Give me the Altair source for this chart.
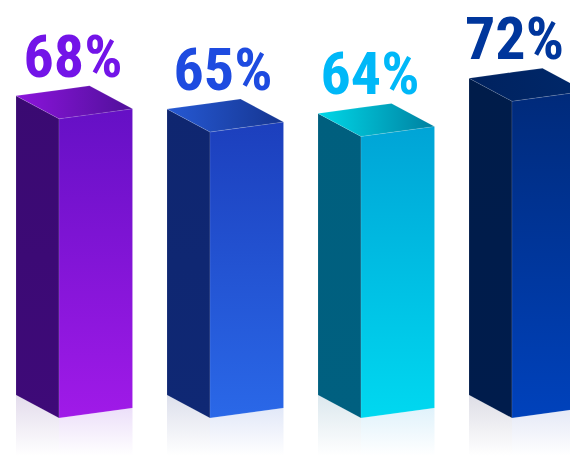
import altair as alt
import pandas as pd

# Survey shares, one box per value
categories = ["A", "B", "C", "D"]
values = [68, 65, 64, 72]
label_colors = ["#7314E8", "#1E4BE0", "#00B8F8", "#00369C"]
front_top = ["#6510C5", "#1C3FBD", "#00A4D6", "#002A7A"]
front_bottom = ["#A01AE8", "#2A68E8", "#00D8F0", "#0042BC"]
side_top = ["#3A0A72", "#0F2670", "#005F7E", "#001C4A"]
side_bottom = ["#3E0A78", "#0F2874", "#006080", "#001C4C"]
lid_left = ["#8C14DC", "#2659D4", "#00D8E8", "#00225F"]
lid_right = ["#50109A", "#153590", "#0080A0", "#00286A"]
glow_side = ["#E3DCEC", "#DDE0EC", "#DCE8EE", "#DEDEE6"]
glow_front = ["#ECDFF9", "#E2E8F8", "#E0F2FB", "#E4E8F6"]

# Box projection, in pixels
W, H = 570, 456
PITCH = 151
ORIGIN = 16
SIDE_W = 43
FRONT_W = 73.5
BASE = 418
PX_PER_UNIT = 4.4
LEFT_RISE = 23 / PX_PER_UNIT
RIGHT_RISE = 10 / PX_PER_UNIT
BACK_RISE = 33 / PX_PER_UNIT
Y_MIN = -(H - BASE) / PX_PER_UNIT
Y_MAX = BASE / PX_PER_UNIT
LABEL_OFFSET = [57, 56, 52, 45.5]

x_scale = alt.Scale(domain=[0, W], range=[0, W], nice=False, zero=False)
y_scale = alt.Scale(domain=[Y_MIN, Y_MAX], nice=False, zero=False)


def fade(first, last, horizontal=False):
    return alt.Gradient(
        gradient="linear",
        stops=[alt.GradientStop(color=first, offset=0), alt.GradientStop(color=last, offset=1)],
        x1=0, y1=0,
        x2=1 if horizontal else 0,
        y2=0 if horizontal else 1,
    )


def face(rows, fill, edge=True):
    frame = pd.DataFrame(rows, columns=["x", "y", "y2"])
    style = dict(fill=fill, clip=True, interpolate="linear")
    if edge:
        style.update(stroke="#FFFFFF", strokeWidth=0.5, strokeOpacity=0.22)
    return alt.Chart(frame).mark_area(**style).encode(
        x=alt.X("x:Q", scale=x_scale, axis=None),
        y=alt.Y("y:Q", scale=y_scale, axis=None, stack=None),
        y2="y2:Q",
    )


layers = []
for i, v in enumerate(values):
    left = ORIGIN + i * PITCH
    mid = left + SIDE_W
    right = mid + FRONT_W
    back = left + FRONT_W

    # Floor reflection fading under the box
    layers.append(face([(left, LEFT_RISE, Y_MIN), (mid, 0, Y_MIN)], fade(glow_side[i], "#FFFFFF"), edge=False))
    layers.append(face([(mid, 0, Y_MIN), (right, RIGHT_RISE, Y_MIN)], fade(glow_front[i], "#FFFFFF"), edge=False))

    # Left side and front of the box
    layers.append(face([(left, v + LEFT_RISE, LEFT_RISE), (mid, v, 0)], fade(side_top[i], side_bottom[i])))
    layers.append(face([(mid, v, 0), (right, v + RIGHT_RISE, RIGHT_RISE)], fade(front_top[i], front_bottom[i])))

    # Lid: the upper and lower outlines meet at the left and right corners
    def upper(px):
        if px <= back:
            return v + LEFT_RISE + (BACK_RISE - LEFT_RISE) * (px - left) / (back - left)
        return v + BACK_RISE + (RIGHT_RISE - BACK_RISE) * (px - back) / (right - back)

    def lower(px):
        if px <= mid:
            return v + LEFT_RISE - LEFT_RISE * (px - left) / (mid - left)
        return v + RIGHT_RISE * (px - mid) / (right - mid)

    lid_rows = [(px, upper(px), lower(px)) for px in (left, mid, back, right)]
    layers.append(face(lid_rows, fade(lid_left[i], lid_right[i], horizontal=True)))

    # Percentage above the box
    label = pd.DataFrame({"x": [left + LABEL_OFFSET[i]], "y": [v], "text": [f"{v}%"], "cat": [categories[i]]})
    layers.append(
        alt.Chart(label)
        .mark_text(
            font="Roboto Condensed, Roboto, sans-serif",
            fontWeight="bold",
            fontSize=60,
            baseline="alphabetic",
            align="center",
            dy=-42,
            color=label_colors[i],
        )
        .encode(
            x=alt.X("x:Q", scale=x_scale, axis=None),
            y=alt.Y("y:Q", scale=y_scale, axis=None),
            text="text:N",
        )
    )

chart = (
    alt.layer(*layers)
    .properties(width=W, height=H, padding=0, autosize=alt.AutoSizeParams(type="none"), background="#FFFFFF")
    .configure_view(stroke=None)
)

chart.save("out.html", embed_options={"renderer": "svg", "actions": False})
